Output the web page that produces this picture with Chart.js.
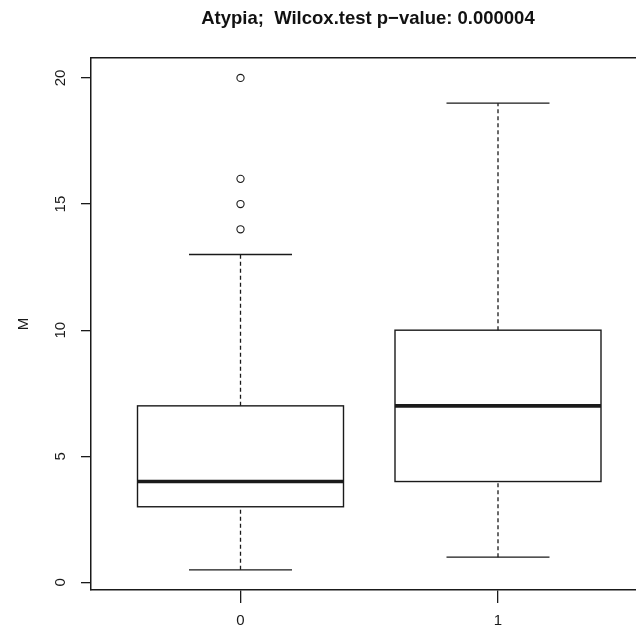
<!DOCTYPE html>
<html><head><meta charset="utf-8">
<script src="https://cdn.jsdelivr.net/npm/chart.js@4.4.1/dist/chart.umd.min.js"></script>
<style>html,body{margin:0;padding:0;background:#fff}#wrap{width:636px;height:630px;position:relative;overflow:hidden}</style>
</head><body><div id="wrap"><canvas id="c" width="650" height="630"></canvas></div>
<script>
const categories = ['0', '1'];
const lowerWhisker = [0.5, 1];
const q1 = [3, 4];
const medians = [4, 7];
const q3 = [7, 10];
const upperWhisker = [13, 19];
const outliers = [[14, 15, 16, 20], []];
const yTicks = [0, 5, 10, 15, 20];
const titleText = 'Atypia;  Wilcox.test p\u2212value: 0.000004';
const yTitle = 'M';

const FONT = "'Liberation Sans', Arial, Helvetica, sans-serif";
const INK = '#1a1a1a';
const BOX_HALF = 0.4;
const CAP_HALF = 0.2;

const outlierPoints = [];
outliers.forEach((arr, i) => arr.forEach(v => outlierPoints.push({x: i, y: v})));

const boxPlugin = {
  id: 'boxes',
  afterDatasetsDraw(chart) {
    const {ctx, chartArea, scales: {x, y}} = chart;
    ctx.save();
    ctx.beginPath();
    ctx.rect(chartArea.left, chartArea.top, chartArea.right - chartArea.left, chartArea.bottom - chartArea.top);
    ctx.clip();
    categories.forEach((c, i) => {
      const xc = x.getPixelForValue(i);
      const xl = x.getPixelForValue(i - BOX_HALF);
      const xr = x.getPixelForValue(i + BOX_HALF);
      const cl = x.getPixelForValue(i - CAP_HALF);
      const cr = x.getPixelForValue(i + CAP_HALF);
      const yLo = y.getPixelForValue(lowerWhisker[i]);
      const yQ1 = y.getPixelForValue(q1[i]);
      const yMed = y.getPixelForValue(medians[i]);
      const yQ3 = y.getPixelForValue(q3[i]);
      const yHi = y.getPixelForValue(upperWhisker[i]);
      ctx.strokeStyle = INK;
      ctx.lineWidth = 1.3;
      ctx.setLineDash([4, 3]);
      ctx.beginPath();
      ctx.moveTo(xc, yLo); ctx.lineTo(xc, yQ1);
      ctx.moveTo(xc, yQ3); ctx.lineTo(xc, yHi);
      ctx.stroke();
      ctx.setLineDash([]);
      ctx.beginPath();
      ctx.moveTo(cl, yLo); ctx.lineTo(cr, yLo);
      ctx.moveTo(cl, yHi); ctx.lineTo(cr, yHi);
      ctx.stroke();
      ctx.lineWidth = 1.4;
      ctx.strokeRect(xl, yQ3, xr - xl, yQ1 - yQ3);
      ctx.lineWidth = 3.6;
      ctx.beginPath();
      ctx.moveTo(xl, yMed); ctx.lineTo(xr, yMed);
      ctx.stroke();
    });
    ctx.restore();
  }
};

const X_MIN = -0.5806, X_MAX = 1.5705;

new Chart(document.getElementById('c'), {
  type: 'scatter',
  data: {
    datasets: [{
      data: outlierPoints,
      pointRadius: 3.6,
      pointBorderWidth: 1.1,
      pointBorderColor: INK,
      pointBackgroundColor: 'rgba(255,255,255,0)',
      pointStyle: 'circle'
    }]
  },
  plugins: [boxPlugin],
  options: {
    responsive: false,
    animation: false,
    devicePixelRatio: 1,
    layout: {padding: 0},
    plugins: {
      legend: {display: false},
      tooltip: {enabled: false},
      title: {
        display: true,
        text: titleText,
        fullSize: false,
        color: '#111',
        font: {family: FONT, size: 18.5, weight: 'bold'},
        padding: {top: 8, bottom: 27.8}
      }
    },
    scales: {
      x: {
        type: 'linear', position: 'bottom', min: X_MIN, max: X_MAX,
        afterBuildTicks: s => { s.ticks = categories.map((c, i) => ({value: i})); },
        afterFit: s => { s.height = 40; },
        ticks: {
          callback: v => categories[v],
          autoSkip: false, maxRotation: 0, minRotation: 0,
          color: INK, font: {family: FONT, size: 15}, padding: 9
        },
        grid: {drawOnChartArea: false, drawTicks: true, tickLength: 13, color: INK, lineWidth: 1.3},
        border: {display: true, color: INK, width: 1.5}
      },
      xTop: {
        type: 'linear', position: 'top', min: X_MIN, max: X_MAX,
        afterFit: s => { s.height = 0; },
        ticks: {display: false},
        grid: {display: false},
        border: {display: true, color: INK, width: 1.5}
      },
      y: {
        type: 'linear', position: 'left', min: -0.30, max: 20.79,
        afterBuildTicks: s => { s.ticks = yTicks.map(v => ({value: v})); },
        afterFit: s => { s.width = 91; },
        ticks: {
          minRotation: 90, maxRotation: 90, crossAlign: 'center',
          color: INK, font: {family: FONT, size: 15}, padding: 11.3
        },
        grid: {drawOnChartArea: false, drawTicks: true, tickLength: 10, color: INK, lineWidth: 1.3},
        border: {display: true, color: INK, width: 1.5},
        title: {display: true, text: yTitle, color: INK, font: {family: FONT, size: 15}, padding: {top: 15, bottom: 0}}
      }
    }
  }
});
</script>
</body></html>
